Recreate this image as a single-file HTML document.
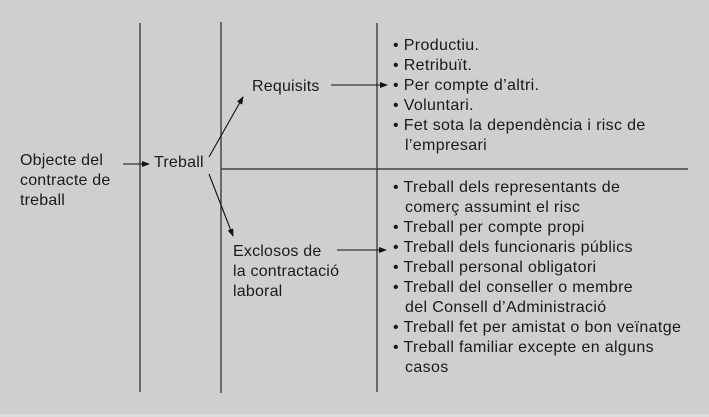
<!DOCTYPE html>
<html><head><meta charset="utf-8"><style>
html,body{margin:0;padding:0;background:#cfcfcf;}
svg{display:block;}
text{font-family:"Liberation Sans",sans-serif;font-size:16px;fill:#1a1a1a;letter-spacing:0.2px;}
.b text{letter-spacing:0.35px;}
</style></head><body>
<svg width="709" height="417" viewBox="0 0 709 417" xmlns="http://www.w3.org/2000/svg">
<defs><marker id="a" markerWidth="8" markerHeight="8" refX="7" refY="4" orient="auto" markerUnits="userSpaceOnUse"><path d="M0,1 L8,4 L0,7 Z" fill="#111"/></marker></defs>
<rect width="709" height="417" fill="#cfcfcf"/>
<rect x="0" y="414" width="709" height="3" fill="#dcdcdc"/>
<g stroke="#333" stroke-width="1.3">
<line x1="140" y1="23" x2="140" y2="392"/>
<line x1="221" y1="22" x2="221" y2="393"/>
<line x1="377" y1="23" x2="377" y2="392"/>
<line x1="221" y1="169" x2="688" y2="169" stroke-width="1.6" stroke="#444"/>
</g>
<g stroke="#111" stroke-width="1.1" marker-end="url(#a)">
<line x1="123" y1="164" x2="149" y2="164"/>
<line x1="209" y1="157" x2="243" y2="97"/>
<line x1="209" y1="174" x2="233" y2="236"/>
<line x1="331" y1="85" x2="387" y2="85"/>
<line x1="337" y1="250" x2="386" y2="250"/>
</g>
<text x="20" y="165">Objecte del</text>
<text x="20" y="185">contracte de</text>
<text x="20" y="205">treball</text>
<text x="154" y="167">Treball</text>
<text x="252" y="91">Requisits</text>
<text x="233" y="256">Exclosos de</text>
<text x="233" y="276">la contractació</text>
<text x="233" y="296">laboral</text>
<g class="b">
<text x="393" y="50">• Productiu.</text>
<text x="393" y="70">• Retribuït.</text>
<text x="393" y="90">• Per compte d’altri.</text>
<text x="393" y="110">• Voluntari.</text>
<text x="393" y="130">• Fet sota la dependència i risc de</text>
<text x="405" y="150">l’empresari</text>
<text x="393" y="192">• Treball dels representants de</text>
<text x="405" y="212">comerç assumint el risc</text>
<text x="393" y="232">• Treball per compte propi</text>
<text x="393" y="252">• Treball dels funcionaris públics</text>
<text x="393" y="272">• Treball personal obligatori</text>
<text x="393" y="292">• Treball del conseller o membre</text>
<text x="405" y="312">del Consell d’Administració</text>
<text x="393" y="332">• Treball fet per amistat o bon veïnatge</text>
<text x="393" y="352">• Treball familiar excepte en alguns</text>
<text x="405" y="372">casos</text>
</g>
</svg>
</body></html>
